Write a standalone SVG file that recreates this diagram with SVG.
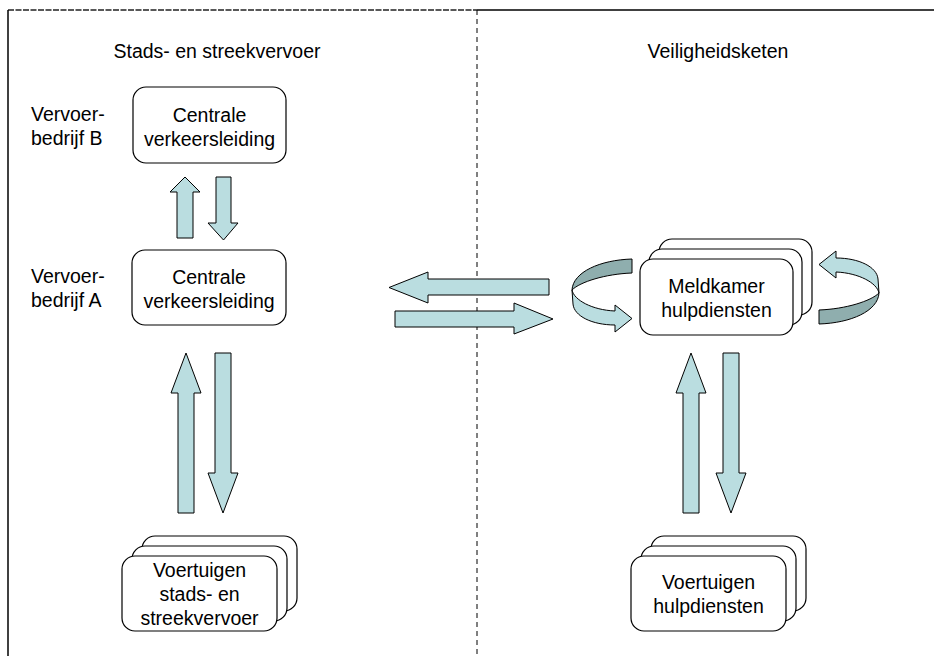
<svg xmlns="http://www.w3.org/2000/svg" width="934" height="656" viewBox="0 0 934 656">
<style>
text{font-family:"Liberation Sans",Arial,sans-serif;font-size:19.5px;fill:#000}
.c{text-anchor:middle}
.box{fill:#fff;stroke:#000;stroke-width:1.2}
.arr{fill:#BADDE0;stroke:#000;stroke-width:1}
.dark{fill:#8FAEAE;stroke:#000;stroke-width:1}
</style>
<rect width="934" height="656" fill="#fff"/>
<g id="frame">
<line x1="8" y1="10" x2="477" y2="10" stroke="#222" stroke-width="1.5" stroke-dasharray="6,1.5"/>
<line x1="477" y1="10" x2="934" y2="10" stroke="#000" stroke-width="1.5"/>
<line x1="8" y1="10" x2="8" y2="656" stroke="#000" stroke-width="1.5"/>
<line x1="477" y1="10" x2="477" y2="656" stroke="#000" stroke-width="1" stroke-dasharray="5,4"/>
</g>
<g id="titles">
<text class="c" x="217" y="58">Stads- en streekvervoer</text>
<text class="c" x="718" y="58">Veiligheidsketen</text>
<text x="31" y="121">Vervoer-</text>
<text x="31" y="145">bedrijf B</text>
<text x="31" y="283">Vervoer-</text>
<text x="31" y="307">bedrijf A</text>
</g>
<g id="connectors">
<polygon class="arr" points="185,177 200,192 193,192 193,238 177,238 177,192 170,192"/>
<polygon class="arr" points="216,177 231,177 231,223 238,223 223.5,240 208,223 216,223"/>
<polygon class="arr" points="186,353 201,393 194,393 194,513 178,513 178,393 171,393"/>
<polygon class="arr" points="215,353 231,353 231,473 238,473 223,513 208,473 215,473"/>
<polygon class="arr" points="691,353 706,393 699,393 699,513 683,513 683,393 676,393"/>
<polygon class="arr" points="723,353 739,353 739,473 746,473 731,513 716,473 723,473"/>
<polygon class="arr" points="389,287.5 428,272 428,279 549,279 549,295 428,295 428,303"/>
<polygon class="arr" points="553,319 514,303 514,311 395,311 395,327 514,327 514,334"/>
<g id="loop-left">
<path class="dark" d="M632,259 C600,260 573,272 572,290 C580,282 605,274 632,273 Z"/>
<path class="arr" d="M572,290 C574,300 592,310 615,311 L615,305 L632,318.5 L615,332 L615,325 C592,325 574,316 573,304 Z"/>
</g>
<g id="loop-right" transform="rotate(180 725.5 291.5)">
<path class="dark" d="M632,259 C600,260 573,272 572,290 C580,282 605,274 632,273 Z"/>
<path class="arr" d="M572,290 C574,300 592,310 615,311 L615,305 L632,318.5 L615,332 L615,325 C592,325 574,316 573,304 Z"/>
</g>
</g>
<g id="cvl-b">
<rect class="box" x="133" y="87" width="153" height="76" rx="13"/>
<text class="c" x="209.5" y="121.5">Centrale</text>
<text class="c" x="209.5" y="145.5">verkeersleiding</text>
</g>
<g id="cvl-a">
<rect class="box" x="132" y="250" width="154" height="75" rx="13"/>
<text class="c" x="209" y="283.5">Centrale</text>
<text class="c" x="209" y="307.5">verkeersleiding</text>
</g>
<g id="meldkamer">
<rect class="box" x="659" y="239" width="153" height="76" rx="13"/>
<rect class="box" x="649" y="249" width="153" height="76" rx="13"/>
<rect class="box" x="640" y="259" width="153" height="76" rx="13"/>
<text class="c" x="716.5" y="293">Meldkamer</text>
<text class="c" x="716.5" y="317">hulpdiensten</text>
</g>
<g id="voertuigen-ov">
<rect class="box" x="142" y="536" width="155" height="75" rx="13"/>
<rect class="box" x="132" y="546" width="155" height="75" rx="13"/>
<rect class="box" x="122" y="556" width="155" height="75" rx="13"/>
<text class="c" x="199.5" y="577">Voertuigen</text>
<text class="c" x="199.5" y="601">stads- en</text>
<text class="c" x="199.5" y="625">streekvervoer</text>
</g>
<g id="voertuigen-hd">
<rect class="box" x="651" y="536" width="155" height="75" rx="13"/>
<rect class="box" x="641" y="546" width="155" height="75" rx="13"/>
<rect class="box" x="631" y="556" width="155" height="75" rx="13"/>
<text class="c" x="708.5" y="589">Voertuigen</text>
<text class="c" x="708.5" y="613">hulpdiensten</text>
</g>
</svg>
